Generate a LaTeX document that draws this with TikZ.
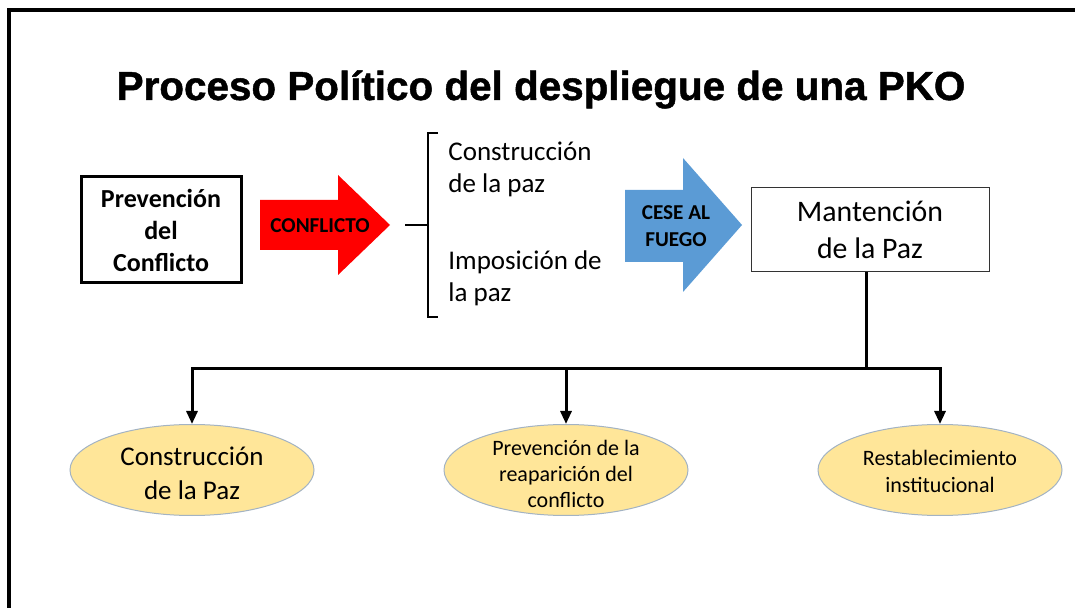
\documentclass[tikz,border=0pt]{standalone}
\usepackage{fontspec}
\setmainfont{Carlito}
\newfontfamily\titlefont[BoldFeatures={FakeBold=1.2}]{Liberation Sans}
\usetikzlibrary{arrows.meta,shapes.geometric}
\definecolor{arrowred}{HTML}{FF0000}
\definecolor{arrowblue}{HTML}{5B9BD5}
\definecolor{ovalfill}{HTML}{FFE699}
\definecolor{ovalline}{HTML}{A3B3C3}
\tikzset{
    box/.style={rectangle,draw,align=center,inner sep=0pt},
    oval/.style={ellipse,draw=ovalline,fill=ovalfill,line width=0.5pt,minimum width=122pt,minimum height=45.5pt,inner sep=0pt},
    ovaltext/.style={align=center,inner sep=0pt},
    arrowtext/.style={align=center,inner sep=0pt,font=\fontsize{10.6pt}{13.5pt}\selectfont\bfseries},
    bracetext/.style={align=left,inner sep=0pt,anchor=west,font=\fontsize{13.5pt}{16pt}\selectfont},
    directed/.style={arrows={-Triangle[width=5.5pt,length=6.5pt]},line width=1.5pt},
    }

\begin{document}
\begin{tikzpicture}[x=0.5pt,y=-0.5pt]
	\useasboundingbox (0,0) rectangle (1075,608);
	\draw[line width=2pt] (9,608) -- (9,10) -- (1075,10);

		\node[inner sep=0pt,anchor=base,font=\titlefont\fontsize{20.2pt}{24pt}\selectfont\bfseries] (title) at (541,100) {Proceso Político del despliegue de una PKO};

		\node[box,line width=1.5pt,minimum width=80pt,minimum height=53pt,font=\fontsize{13pt}{16pt}\selectfont\bfseries] (p) at (161,230) {Prevención\\del\\Conflicto};

		\fill[arrowred] (260,200) -- (338,200) -- (338,175) -- (390,225) -- (338,275) -- (338,250) -- (260,250) -- cycle;
		\node[arrowtext] (cf) at (320,226) {CONFLICTO};

		\draw[line width=0.8pt] (438,133) -- (428,133) -- (428,317) -- (438,317);
		\draw[line width=0.8pt] (405,225) -- (428,225);
		\node[bracetext] (k1) at (448,169) {Construcción\\de la paz};
		\node[bracetext] (k2) at (448,278.5) {Imposición de\\la paz};

		\fill[arrowblue] (625,190) -- (683,190) -- (683,158) -- (742,225) -- (683,292) -- (683,262) -- (625,262) -- cycle;
		\node[arrowtext] (cf2) at (676,226) {CESE AL\\FUEGO};

		\node[box,draw=black!80,line width=0.5pt,minimum width=119pt,minimum height=42pt,font=\fontsize{14.9pt}{18.5pt}\selectfont] (m) at (870,230) {Mantención\\de la Paz};

		\node[oval] (c1) at (192,470) {};
		\node[oval] (c2) at (566,470) {};
		\node[oval] (c3) at (940,470) {};
		\node[ovaltext,font=\fontsize{13.5pt}{17pt}\selectfont] (t1) at (192,473) {Construcción\\de la Paz};
		\node[ovaltext,font=\fontsize{11pt}{13pt}\selectfont] (t2) at (566,474) {Prevención de la\\reaparición del\\conflicto};
		\node[ovaltext,font=\fontsize{11pt}{13.5pt}\selectfont] (t3) at (940,471) {Restablecimiento\\institucional};

	\coordinate (j) at (866,369);
	\draw[line width=1.5pt] (m.south -| j) -- (j);
	\draw[directed] (j) -| (c1.north);
	\draw[directed] (j) -| (c2.north);
	\draw[directed] (j) -| (c3.north);
    \end{tikzpicture}
\end{document}
